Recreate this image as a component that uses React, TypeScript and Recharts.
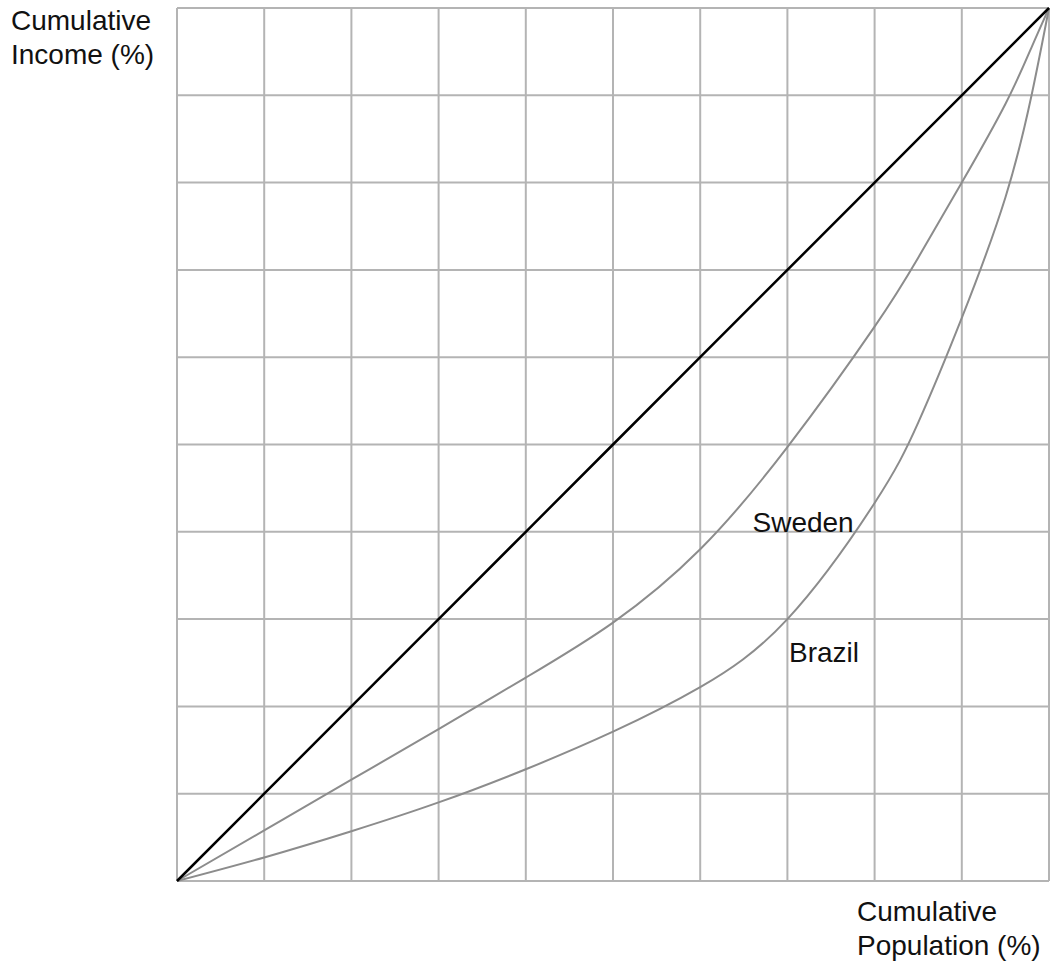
import React from 'react';
import { LineChart, Line, XAxis, YAxis, ReferenceLine, ReferenceDot, Label } from 'recharts';

const population = [0, 10, 20, 30, 40, 50, 60, 70, 80, 85, 90, 95, 98, 100];
const equality = [0, 10, 20, 30, 40, 50, 60, 70, 80, 85, 90, 95, 98, 100];
const sweden = [0, 5.8, 11.6, 17.4, 23.3, 29.6, 38.0, 49.7, 63.5, 71.4, 80, 89.0, 95.5, 100];
const brazil = [0, 2.7, 5.7, 9.0, 12.8, 17.1, 22.2, 30, 43.3, 52.5, 64.5, 78.3, 90, 100];
const ticks = [0, 10, 20, 30, 40, 50, 60, 70, 80, 90, 100];

const countryLabels = [
  { name: 'Sweden', x: 71.8, y: 41.1 },
  { name: 'Brazil', x: 74.2, y: 26.2 },
];

const data = population.map((p, i) => ({
  p,
  eq: equality[i],
  sweden: sweden[i],
  brazil: brazil[i],
}));

const FONT = '"Liberation Sans", Arial, sans-serif';
const GRID = '#b4b4b4';

export default function App() {
  return (
    <div style={{ position: 'absolute', left: 0, top: 0, width: 1051, height: 967, fontFamily: FONT }}>
      <LineChart width={1051} height={967} data={data} margin={{ top: 8, right: 2, bottom: 86, left: 177 }}>
        <XAxis dataKey="p" type="number" domain={[0, 100]} ticks={ticks} tick={false} axisLine={false} tickLine={false} height={0} />
        <YAxis type="number" domain={[0, 100]} ticks={ticks} tick={false} axisLine={false} tickLine={false} width={0} />
        {ticks.map((t) => (
          <ReferenceLine key={'v' + t} x={t} stroke={GRID} strokeWidth={2} />
        ))}
        {ticks.map((t) => (
          <ReferenceLine key={'h' + t} y={t} stroke={GRID} strokeWidth={2} />
        ))}
        <Line dataKey="brazil" type="natural" stroke="#8c8c8c" strokeWidth={2} dot={false} isAnimationActive={false} />
        <Line dataKey="sweden" type="natural" stroke="#8c8c8c" strokeWidth={2} dot={false} isAnimationActive={false} />
        <Line dataKey="eq" type="linear" stroke="#000000" strokeWidth={2.5} dot={false} isAnimationActive={false} />
        {countryLabels.map((c) => (
          <ReferenceDot key={c.name} x={c.x} y={c.y} r={0} stroke="none" fill="none" isFront>
            <Label value={c.name} position="center" style={{ fontFamily: FONT, fontSize: 28, fill: '#111' }} />
          </ReferenceDot>
        ))}
      </LineChart>
      <div style={{ position: 'absolute', left: 11, top: 4, fontSize: 28, lineHeight: '34px', color: '#111' }}>
        Cumulative<br />Income (%)
      </div>
      <div style={{ position: 'absolute', left: 857, top: 895, fontSize: 28, lineHeight: '34px', color: '#111' }}>
        Cumulative<br />Population (%)
      </div>
    </div>
  );
}
